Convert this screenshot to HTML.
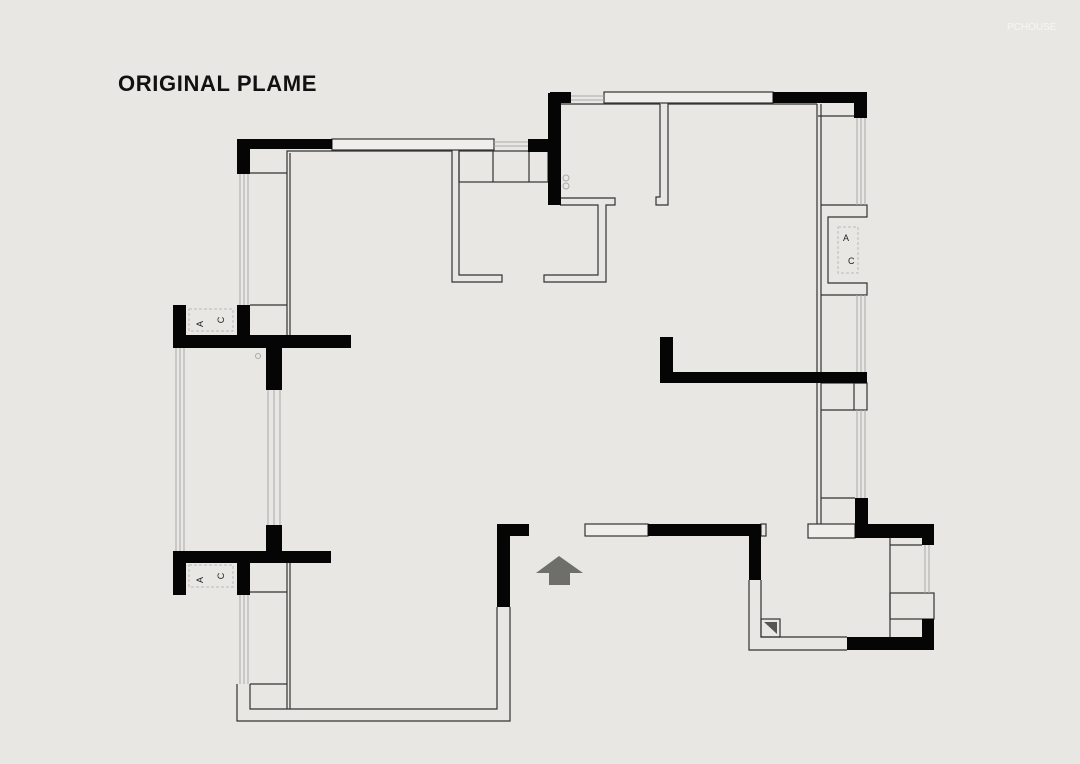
<!DOCTYPE html>
<html><head><meta charset="utf-8"><style>
html,body{margin:0;padding:0;background:#e8e7e3;}
svg{display:block}
</style></head><body>
<svg width="1080" height="764" viewBox="0 0 1080 764" xmlns="http://www.w3.org/2000/svg">
<rect width="1080" height="764" fill="#e8e7e3"/>
<text x="118" y="91" font-family="Liberation Sans, sans-serif" font-size="22" font-weight="bold" letter-spacing="0.6" fill="#111" textLength="199" lengthAdjust="spacingAndGlyphs">ORIGINAL PLAME</text>
<text x="1007" y="30" font-family="Liberation Sans, sans-serif" font-size="10" fill="#f6f6f4">PCHOUSE</text>

<g fill="none" stroke="#333" stroke-width="1.2">
<rect x="332" y="139" width="162" height="11" fill="#efeeeb"/>
<polyline points="287,335 287,151 452,151 452,282 502,282 502,275 459,275 459,151"/>
<line x1="290" y1="153" x2="290" y2="335"/>
<rect x="459" y="151" width="89" height="31"/>
<line x1="493" y1="151" x2="493" y2="182"/><line x1="529" y1="151" x2="529" y2="182"/>
<polyline points="560,198 615,198 615,205 606,205 606,282 544,282 544,275 598,275 598,205 560,205"/>
<rect x="604" y="92" width="169" height="11" fill="#efeeeb"/>
<line x1="561" y1="104" x2="660" y2="104"/>
<polyline points="660,104 660,197 656,197 656,205 668,205 668,104 817,104"/>
<line x1="817" y1="104" x2="817" y2="524"/><line x1="821" y1="104" x2="821" y2="524"/>
<line x1="818" y1="116" x2="854" y2="116"/>
<polyline points="821,205 867,205 867,217 828,217 828,283 867,283 867,295 821,295"/>
<line x1="821" y1="383" x2="867" y2="383"/><rect x="854" y="383" width="13" height="27"/><line x1="821" y1="410" x2="854" y2="410"/>
<line x1="821" y1="498" x2="855" y2="498"/>
<rect x="808" y="524" width="47" height="14" fill="#efeeeb"/>
<line x1="250" y1="173" x2="287" y2="173"/><line x1="250" y1="305" x2="287" y2="305"/>
<line x1="250" y1="592" x2="287" y2="592"/><line x1="250" y1="684" x2="287" y2="684"/>
<polyline points="237,684 237,721 510,721 510,607"/>
<polyline points="250,684 250,709 497,709 497,607"/>
<line x1="287" y1="563" x2="287" y2="709"/><line x1="290" y1="563" x2="290" y2="709"/>
<rect x="585" y="524" width="63" height="12" fill="#efeeeb"/>
<rect x="761" y="524" width="5" height="12"/>
<polyline points="749,580 749,650 847,650"/>
<polyline points="761,580 761,637 847,637"/>
<rect x="761" y="619" width="19" height="18"/>
<polyline points="890,538 890,637"/><line x1="890" y1="545" x2="922" y2="545"/>
<rect x="890" y="593" width="44" height="26"/>
</g>
<polygon points="764,622 777,622 777,634" fill="#555"/>

<g stroke="#aaa" stroke-width="1">
<line x1="240" y1="174" x2="240" y2="305"/><line x1="244" y1="174" x2="244" y2="305"/><line x1="248" y1="174" x2="248" y2="305"/>
<line x1="176" y1="348" x2="176" y2="551"/><line x1="180" y1="348" x2="180" y2="551"/><line x1="184" y1="348" x2="184" y2="551"/>
<line x1="268" y1="390" x2="268" y2="525"/><line x1="274" y1="390" x2="274" y2="525"/><line x1="280" y1="390" x2="280" y2="525"/>
<line x1="240" y1="595" x2="240" y2="684"/><line x1="244" y1="595" x2="244" y2="684"/><line x1="248" y1="595" x2="248" y2="684"/>
<line x1="857" y1="118" x2="857" y2="205"/><line x1="861" y1="118" x2="861" y2="205"/><line x1="865" y1="118" x2="865" y2="205"/>
<line x1="857" y1="295" x2="857" y2="372"/><line x1="861" y1="295" x2="861" y2="372"/><line x1="865" y1="295" x2="865" y2="372"/>
<line x1="857" y1="410" x2="857" y2="498"/><line x1="861" y1="410" x2="861" y2="498"/><line x1="865" y1="410" x2="865" y2="498"/>
<line x1="925" y1="545" x2="925" y2="593"/><line x1="929" y1="545" x2="929" y2="593"/>
<line x1="494" y1="142" x2="528" y2="142"/><line x1="494" y1="146" x2="528" y2="146"/>
<line x1="571" y1="96" x2="604" y2="96"/><line x1="571" y1="100" x2="604" y2="100"/>
</g>

<g fill="#050505">
<rect x="237" y="139" width="95" height="10"/><rect x="237" y="139" width="13" height="35"/>
<rect x="173" y="305" width="13" height="43"/><rect x="173" y="335" width="178" height="13"/><rect x="237" y="305" width="13" height="30"/>
<rect x="266" y="348" width="16" height="42"/>
<rect x="266" y="525" width="16" height="26"/><rect x="173" y="551" width="158" height="12"/>
<rect x="173" y="551" width="13" height="44"/><rect x="237" y="563" width="13" height="32"/>
<rect x="497" y="524" width="13" height="83"/><rect x="497" y="524" width="32" height="12"/>
<rect x="528" y="139" width="30" height="13"/><rect x="548" y="93" width="13" height="112"/><rect x="550" y="92" width="21" height="11"/>
<rect x="773" y="92" width="94" height="11"/><rect x="854" y="92" width="13" height="26"/>
<rect x="660" y="337" width="13" height="46"/><rect x="660" y="372" width="207" height="11"/>
<rect x="855" y="498" width="13" height="27"/><rect x="855" y="524" width="79" height="14"/><rect x="922" y="524" width="12" height="21"/>
<rect x="648" y="524" width="113" height="12"/><rect x="749" y="524" width="12" height="56"/>
<rect x="847" y="637" width="87" height="13"/><rect x="922" y="619" width="12" height="31"/>
</g>

<g fill="none" stroke="#bbb" stroke-dasharray="3,2">
<rect x="189" y="309" width="44" height="22"/><rect x="189" y="565" width="44" height="22"/>
<rect x="838" y="227" width="20" height="46"/>
</g>
<g font-family="Liberation Sans, sans-serif" font-size="9" fill="#222">
<text transform="translate(203,324) rotate(-90)" text-anchor="middle">A</text>
<text transform="translate(224,320) rotate(-90)" text-anchor="middle">C</text>
<text transform="translate(203,580) rotate(-90)" text-anchor="middle">A</text>
<text transform="translate(224,576) rotate(-90)" text-anchor="middle">C</text>
<text x="843" y="241">A</text><text x="848" y="264">C</text>
</g>
<g fill="none" stroke="#aaa"><circle cx="566" cy="178" r="3"/><circle cx="566" cy="186" r="3"/><circle cx="258" cy="356" r="2.5"/></g>

<polygon points="559,556 583,573 570,573 570,585 549,585 549,573 536,573" fill="#6e6e6b"/>
</svg>
</body></html>
